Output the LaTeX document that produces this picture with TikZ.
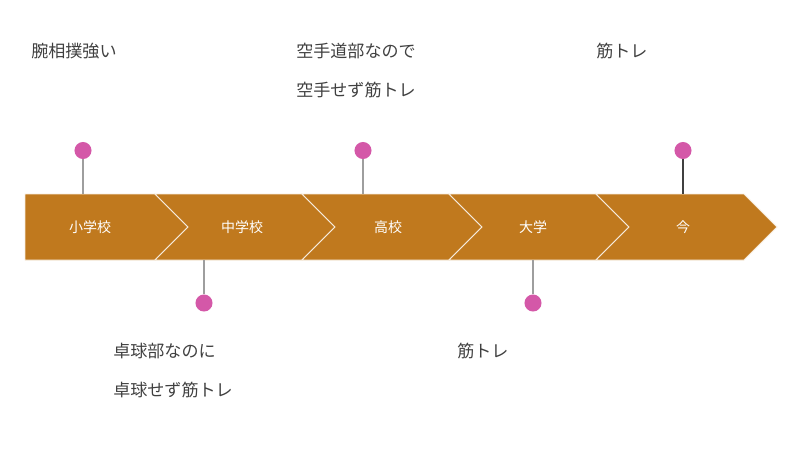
\documentclass[tikz,border=0pt]{standalone}
\usepackage{fontspec}
\newfontfamily\jp{Noto Sans CJK JP}
\definecolor{barfill}{HTML}{C0791E}
\definecolor{pinpink}{HTML}{D458A8}
\definecolor{txt}{HTML}{404040}
\definecolor{stemgray}{HTML}{9E9E9E}
\tikzset{
  seg/.style={fill=barfill, draw=white!85!barfill, line width=0.6pt, line join=miter},
  seglabel/.style={text=white, font=\jp\fontsize{10.5}{12}\selectfont, inner sep=0pt},
  pindot/.style={circle, fill=pinpink, minimum size=12.8pt, inner sep=0pt},
  stem/.style={draw=stemgray, line width=1pt},
  stemdark/.style={draw=txt, line width=1pt},
  note/.style={text=txt, font=\jp\fontsize{12.8}{14}\selectfont, inner sep=0pt, anchor=west}
}
\begin{document}
\begin{tikzpicture}[x=0.75pt,y=-0.75pt]
\useasboundingbox (0,0) rectangle (802,451);
% bar segments
\path[seg] (25,194) -- (155,194) -- (188,227) -- (155,260) -- (25,260) -- cycle;
\path[seg] (155,194) -- (302,194) -- (335,227) -- (302,260) -- (155,260) -- (188,227) -- cycle;
\path[seg] (302,194) -- (449,194) -- (482,227) -- (449,260) -- (302,260) -- (335,227) -- cycle;
\path[seg] (449,194) -- (596,194) -- (629,227) -- (596,260) -- (449,260) -- (482,227) -- cycle;
\path[seg] (596,194) -- (744,194) -- (777,227) -- (744,260) -- (596,260) -- (629,227) -- cycle;
% segment labels
\node[seglabel] (s1) at (90,227) {小学校};
\node[seglabel] (s2) at (242,227) {中学校};
\node[seglabel] (s3) at (388,227) {高校};
\node[seglabel] (s4) at (533,227) {大学};
\node[seglabel] (s5) at (683,227) {今};
% pins
\coordinate (b1) at (83,194);
\coordinate (b2) at (204,260);
\coordinate (b3) at (363,194);
\coordinate (b4) at (533,260);
\coordinate (b5) at (683,194);
\node[pindot] (p1) at (83,150.5) {};
\node[pindot] (p2) at (204,303) {};
\node[pindot] (p3) at (363,150.5) {};
\node[pindot] (p4) at (533,303) {};
\node[pindot] (p5) at (683,150.5) {};
\draw[stem] (p1) -- (b1);
\draw[stem] (p2) -- (b2);
\draw[stem] (p3) -- (b3);
\draw[stem] (p4) -- (b4);
\draw[stemdark] (p5) -- (b5);
% notes
\node[note] (t1) at (31,51) {腕相撲強い};
\node[note] (t2) at (296,51) {空手道部なので};
\node[note] (t3) at (296,90) {空手せず筋トレ};
\node[note] (t4) at (596,51) {筋トレ};
\node[note] (t5) at (113,351) {卓球部なのに};
\node[note] (t6) at (113,390) {卓球せず筋トレ};
\node[note] (t7) at (457,351) {筋トレ};
\end{tikzpicture}
\end{document}
